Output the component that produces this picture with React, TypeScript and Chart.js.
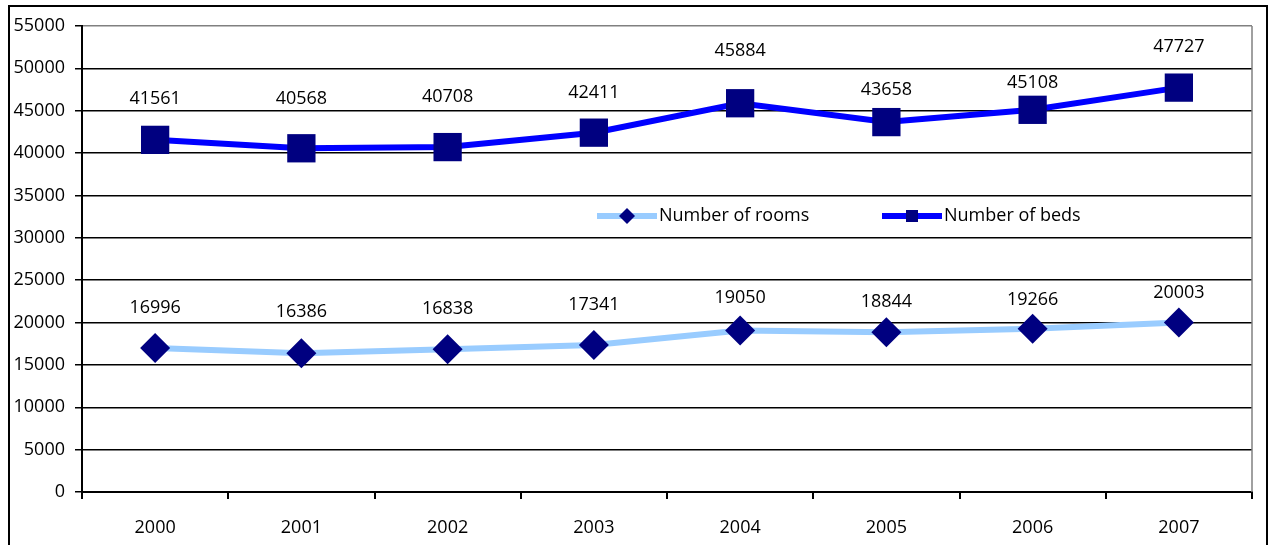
import React, { useEffect, useRef } from "react";
import { Chart, registerables } from "chart.js";

Chart.register(...registerables);

const years = ["2000", "2001", "2002", "2003", "2004", "2005", "2006", "2007"];
const rooms = [16996, 16386, 16838, 17341, 19050, 18844, 19266, 20003];
const beds = [41561, 40568, 40708, 42411, 45884, 43658, 45108, 47727];
const roomsLabel = "Number of rooms";
const bedsLabel = "Number of beds";

// vertical distance (px) of each value label above its marker
const roomsLabelLift = [40, 41, 40, 40, 33, 30, 29, 30];
const bedsLabelLift = [41, 49, 50, 40, 52, 32, 27, 41];

const FONT = "'Open Sans', sans-serif";
const FONT_SIZE = 18;

export default function App() {
  const ref = useRef<HTMLCanvasElement | null>(null);

  useEffect(() => {
    const canvas = ref.current!;
    const lifts = [roomsLabelLift, bedsLabelLift];
    const framePlugin = {
      id: "frame",
      afterDraw(chart: any) {
        const ctx = chart.ctx;
        ctx.save();
        ctx.strokeStyle = "#000";
        ctx.lineWidth = 2;
        ctx.beginPath();
        ctx.moveTo(9, 560);
        ctx.lineTo(9, 6);
        ctx.lineTo(1267, 6);
        ctx.lineTo(1267, 560);
        ctx.stroke();
        ctx.restore();
      },
      beforeDatasetsDraw(chart: any) {
        const ctx = chart.ctx;
        const a = chart.chartArea;
        ctx.save();
        ctx.strokeStyle = "#808080";
        ctx.lineWidth = 1.5;
        ctx.beginPath();
        ctx.moveTo(a.right, a.top);
        ctx.lineTo(a.right, a.bottom);
        ctx.stroke();
        ctx.restore();
      },
    };
    const labelPlugin = {
      id: "vals",
      afterDatasetsDraw(chart: any) {
        const ctx = chart.ctx;
        ctx.save();
        ctx.font = `${FONT_SIZE}px ${FONT}`;
        ctx.fillStyle = "#000";
        ctx.textAlign = "center";
        ctx.textBaseline = "middle";
        chart.data.datasets.forEach((ds: any, i: number) => {
          const meta = chart.getDatasetMeta(i);
          meta.data.forEach((pt: any, j: number) => {
            ctx.fillText(String(ds.data[j]), pt.x, pt.y - lifts[i][j]);
          });
        });
        ctx.restore();
      },
    };
    const legendPlugin = {
      id: "customLegend",
      afterDraw(chart: any) {
        const ctx = chart.ctx;
        const y = 216;
        ctx.save();
        ctx.font = `${FONT_SIZE}px ${FONT}`;
        ctx.textBaseline = "middle";
        ctx.textAlign = "left";
        ctx.strokeStyle = "#99CCFF";
        ctx.lineWidth = 6;
        ctx.beginPath();
        ctx.moveTo(597, y);
        ctx.lineTo(657, y);
        ctx.stroke();
        ctx.fillStyle = "#000080";
        ctx.beginPath();
        ctx.moveTo(627 - 8, y);
        ctx.lineTo(627, y - 8);
        ctx.lineTo(627 + 8, y);
        ctx.lineTo(627, y + 8);
        ctx.closePath();
        ctx.fill();
        ctx.fillStyle = "#000";
        ctx.fillText(roomsLabel, 659, y);
        ctx.strokeStyle = "#0000FF";
        ctx.lineWidth = 6;
        ctx.beginPath();
        ctx.moveTo(882, y);
        ctx.lineTo(942, y);
        ctx.stroke();
        ctx.fillStyle = "#000080";
        ctx.fillRect(912 - 6, y - 6, 12, 12);
        ctx.fillStyle = "#000";
        ctx.fillText(bedsLabel, 944, y);
        ctx.restore();
      },
    };

    const chart = new Chart(canvas, {
      type: "line",
      data: {
        labels: years,
        datasets: [
          {
            label: roomsLabel,
            data: rooms,
            borderColor: "#99CCFF",
            borderWidth: 6,
            pointStyle: "rectRot",
            pointRadius: 15,
            pointBackgroundColor: "#000080",
            pointBorderColor: "#000080",
            pointBorderWidth: 0,
            tension: 0,
          },
          {
            label: bedsLabel,
            data: beds,
            borderColor: "#0000FF",
            borderWidth: 6,
            pointStyle: "rect",
            pointRadius: 20,
            pointBackgroundColor: "#000080",
            pointBorderColor: "#000080",
            pointBorderWidth: 0,
            tension: 0,
          },
        ],
      },
      options: {
        animation: false,
        responsive: false,
        maintainAspectRatio: false,
        layout: { padding: { left: 0, top: 26, right: 20, bottom: 0 } },
        plugins: {
          legend: { display: false },
          tooltip: { enabled: false },
        },
        scales: {
          x: {
            type: "category",
            offset: true,
            afterFit: (s: any) => {
              s.height = 53;
            },
            grid: {
              offset: true,
              drawOnChartArea: false,
              drawTicks: true,
              tickLength: 7,
              color: "#000",
              lineWidth: 2,
            },
            border: { color: "#000", width: 2 },
            ticks: {
              color: "#000",
              font: { family: FONT, size: FONT_SIZE },
              padding: 18,
              maxRotation: 0,
            },
          },
          y: {
            min: 0,
            max: 55000,
            afterFit: (s: any) => {
              s.width = 82;
            },
            grid: {
              color: (c: any) => (c.tick && c.tick.value === 55000 ? "#808080" : "#000"),
              lineWidth: 1.5,
              tickLength: 7,
              tickColor: "#000",
            },
            border: { color: "#000", width: 2 },
            ticks: {
              stepSize: 5000,
              color: "#000",
              font: { family: FONT, size: FONT_SIZE },
              padding: 10,
              callback: (v: any) => String(v),
            },
          },
        },
      },
      plugins: [framePlugin, labelPlugin, legendPlugin],
    });
    return () => chart.destroy();
  }, []);

  return (
    <div style={{ position: "fixed", left: 0, top: 0, width: 1272, height: 545, background: "#fff" }}>
      <canvas ref={ref} width={1272} height={545} style={{ display: "block", width: 1272, height: 545 }} />
    </div>
  );
}
